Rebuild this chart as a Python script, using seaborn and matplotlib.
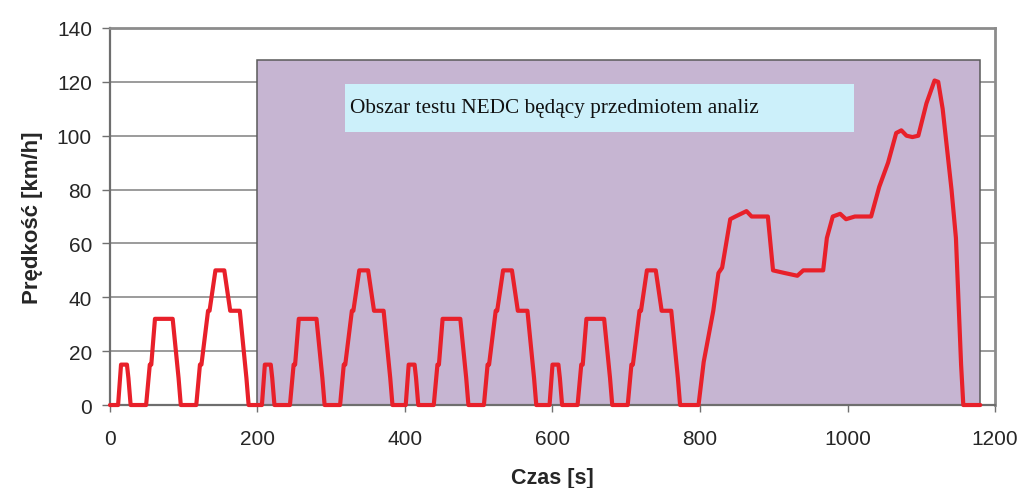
import numpy as np
import matplotlib
matplotlib.use("Agg")
import matplotlib.pyplot as plt
import seaborn as sns
from matplotlib.patches import Rectangle

# ECE-15 urban segment (one repetition)
ece_time = [0, 11, 15, 23, 25, 28, 49, 54, 56, 61, 85, 93, 96, 117, 122, 124, 133, 135, 143, 155, 163, 176, 185, 188]
ece_speed = [0, 0, 15, 15, 10, 0, 0, 15, 15, 32, 32, 10, 0, 0, 15, 15, 35, 35, 50, 50, 35, 35, 10, 0]
ece_repeats = 4
ece_period = 195

# EUDC extra-urban segment
eudc_time = [780, 798, 805, 818, 825, 830, 841, 848, 863, 870, 892, 899, 915, 932, 940, 967, 972, 980, 990,
             998, 1010, 1032, 1043, 1055, 1066, 1073, 1080, 1088, 1096, 1107, 1118, 1123, 1129, 1135, 1141,
             1147, 1150, 1154, 1157, 1180]
eudc_speed = [0, 0, 16, 35, 49, 51, 69, 70, 72, 70, 70, 50, 49, 48, 50, 50, 62, 70, 71,
              69, 70, 70, 81, 90, 101, 102, 100, 99.5, 100, 112, 120.5, 120, 110, 95, 80,
              62, 42, 15, 0, 0]

region_start, region_end, region_top = 200, 1180, 128
note = "Obszar testu NEDC będący przedmiotem analiz"

time = np.concatenate([np.array(ece_time) + k * ece_period for k in range(ece_repeats)] + [eudc_time])
speed = np.concatenate([ece_speed] * ece_repeats + [eudc_speed])

sns.set_style("white")
plt.rcParams['font.family'] = ['Liberation Sans', 'DejaVu Sans']

fig = plt.figure(figsize=(10.24, 4.89), dpi=100)
ax = fig.add_axes([0.1074, 0.1697, 0.8643, 0.7710])

ax.set_axisbelow(True)
ax.yaxis.grid(True, color='#808080', lw=1.1)
ax.xaxis.grid(False)

# analysed area of the test
ax.add_patch(Rectangle((region_start, 0), region_end - region_start, region_top,
                       facecolor='#c6b5d2', edgecolor='#5a5a5a', lw=1.1, zorder=1))
ax.add_patch(Rectangle((319, 101.5), 690, 17.8, facecolor='#ccf0fa', edgecolor='none', zorder=2))
ax.text(325, 110.4, note, family='Liberation Serif', fontsize=15.3, va='center', ha='left', color='#111111', zorder=3)

sns.lineplot(x=time, y=speed, ax=ax, color='#e8202a', lw=3.0, estimator=None, sort=False, zorder=4, clip_on=False)

ax.set_xlim(0, 1200)
ax.set_ylim(0, 140)
ax.set_xticks(range(0, 1201, 200))
ax.set_yticks(range(0, 141, 20))
ax.tick_params(axis='y', which='major', direction='out', length=6, width=1, color='#707070',
               labelsize=15, pad=7, left=True)
ax.tick_params(axis='x', which='major', direction='out', length=5, width=1, color='#707070',
               labelsize=15, pad=12, bottom=True)

for side in ['top', 'right']:
    ax.spines[side].set_color('#8c8c8c')
    ax.spines[side].set_linewidth(2)
for side in ['left', 'bottom']:
    ax.spines[side].set_color('#6e6e6e')
    ax.spines[side].set_linewidth(1.6)

ax.set_xlabel('Czas [s]', fontsize=15.5, fontweight='bold')
ax.set_ylabel('Prędkość [km/h]', fontsize=16, fontweight='bold')
ax.xaxis.set_label_coords(0.5, -0.164)
ax.yaxis.set_label_coords(-0.0757, 0.5)

plt.savefig('out.png', dpi=100)
